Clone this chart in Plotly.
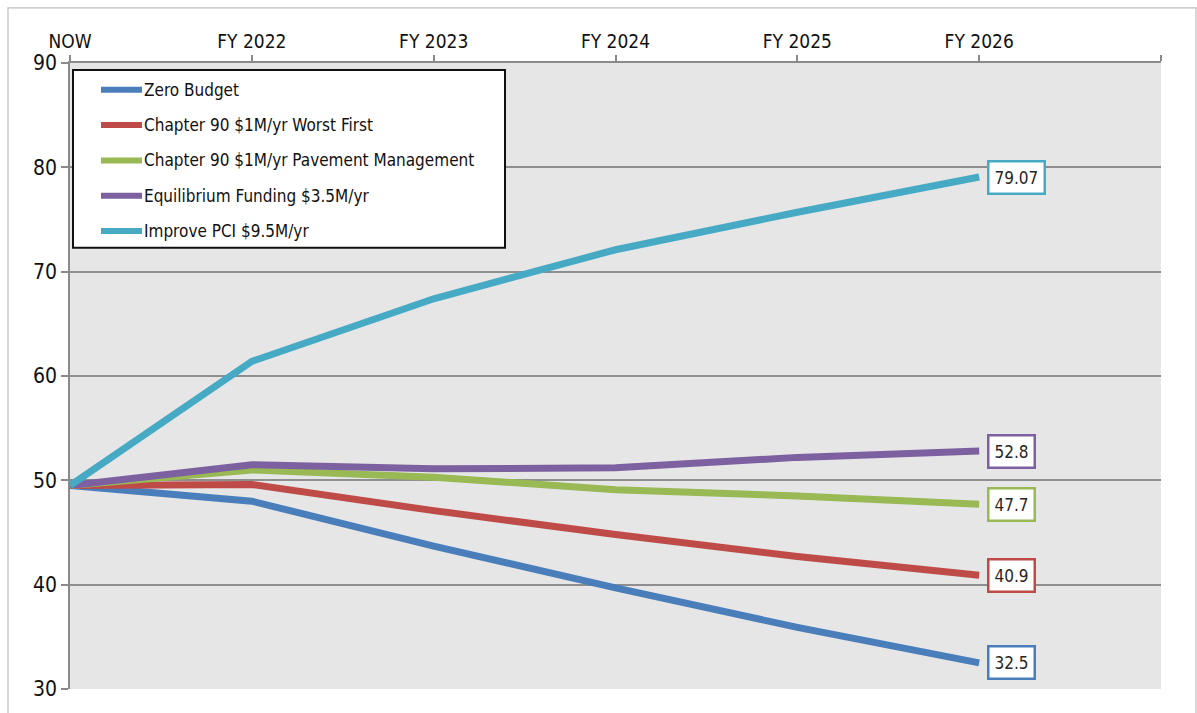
import plotly.graph_objects as go

categories = ["NOW", "FY 2022", "FY 2023", "FY 2024", "FY 2025", "FY 2026"]
series_names = [
    "Zero Budget",
    "Chapter 90 $1M/yr Worst First",
    "Chapter 90 $1M/yr Pavement Management",
    "Equilibrium Funding $3.5M/yr",
    "Improve PCI $9.5M/yr",
]
zero_budget = [49.5, 48.0, 43.7, 39.7, 35.9, 32.5]
worst_first = [49.5, 49.6, 47.1, 44.8, 42.7, 40.9]
pavement_mgmt = [49.5, 51.0, 50.3, 49.1, 48.5, 47.7]
equilibrium = [49.5, 51.5, 51.1, 51.2, 52.2, 52.8]
improve_pci = [49.5, 61.4, 67.4, 72.1, 75.7, 79.07]
y_ticks = [30, 40, 50, 60, 70, 80, 90]

series_values = [zero_budget, worst_first, pavement_mgmt, equilibrium, improve_pci]
colors = ["#4a7ebb", "#be4b48", "#98b954", "#7d60a0", "#46aac5"]

FONT = "DejaVu Sans Condensed, DejaVu Sans, sans-serif"
W, H = 1197, 713
L, R = 70, 1161
T, B = 63, 693

def px_x(p):
    return (p - L) / (R - L)

def px_y(p):
    return (B - p) / (B - T)

xs = list(range(len(categories)))
fig = go.Figure()
for name, vals, c in zip(series_names, series_values, colors):
    fig.add_trace(go.Scatter(x=xs, y=vals, mode="lines", name=name,
                             line=dict(color=c, width=7), showlegend=False,
                             hoverinfo="x+y+name"))

annotations = []
shapes = []
# end labels
for vals, c in zip(series_values, colors):
    annotations.append(dict(x=xs[-1], y=vals[-1], xref="x", yref="y",
                            text=f"{vals[-1]:g}", showarrow=False,
                            xanchor="left", yanchor="middle", xshift=8,
                            font=dict(family=FONT, size=17, color="#262626"),
                            bgcolor="white", bordercolor=c, borderwidth=2.5,
                            borderpad=5))

# custom legend
shapes.append(dict(type="rect", xref="paper", yref="paper",
                   x0=px_x(73), x1=px_x(505), y0=px_y(249), y1=px_y(70),
                   line=dict(color="#111111", width=2), fillcolor="white",
                   layer="above"))
for i, (name, c) in enumerate(zip(series_names, colors)):
    yy = 90 + i * 35.5
    shapes.append(dict(type="line", xref="paper", yref="paper",
                       x0=px_x(101), x1=px_x(142), y0=px_y(yy), y1=px_y(yy),
                       line=dict(color=c, width=6), layer="above"))
    annotations.append(dict(x=px_x(142), y=px_y(yy), xref="paper", yref="paper",
                            text=name, showarrow=False, xanchor="left",
                            yanchor="middle",
                            font=dict(family=FONT, size=17, color="#111111")))

# outer frame
shapes.append(dict(type="rect", xref="paper", yref="paper",
                   x0=px_x(8), x1=px_x(1196), y0=px_y(740), y1=px_y(7.5),
                   line=dict(color="#bdbdbd", width=1.2), layer="below"))

fig.update_layout(
    width=W, height=H,
    margin=dict(l=L, r=W - R, t=T, b=H - B),
    paper_bgcolor="white",
    plot_bgcolor="#e6e6e6",
    font=dict(family=FONT, color="#111111"),
    showlegend=False,
    shapes=shapes,
    annotations=annotations,
    xaxis=dict(range=[0, 6], tickmode="array", tickvals=list(range(7)),
               ticktext=categories + [""], side="top",
               showgrid=False, zeroline=False,
               showline=True, linecolor="#8a8a8a", linewidth=1.5,
               ticks="outside", ticklen=6, tickcolor="#8a8a8a", tickwidth=1.5,
               tickfont=dict(family=FONT, size=19, color="#111111"),
               fixedrange=True),
    yaxis=dict(range=[30, 90], tickmode="array", tickvals=y_ticks,
               showgrid=True, gridcolor="#8e8e8e", gridwidth=1.5,
               zeroline=False, showline=True, linecolor="#8a8a8a", linewidth=1.5,
               ticks="outside", ticklen=7, tickcolor="#8a8a8a", tickwidth=1.5,
               tickfont=dict(family=FONT, size=21, color="#111111"),
               fixedrange=True),
)

fig.write_html(
    "out.html",
    config={"displayModeBar": False},
    post_script="document.body.style.margin='0';document.body.style.overflow='hidden';",
)
